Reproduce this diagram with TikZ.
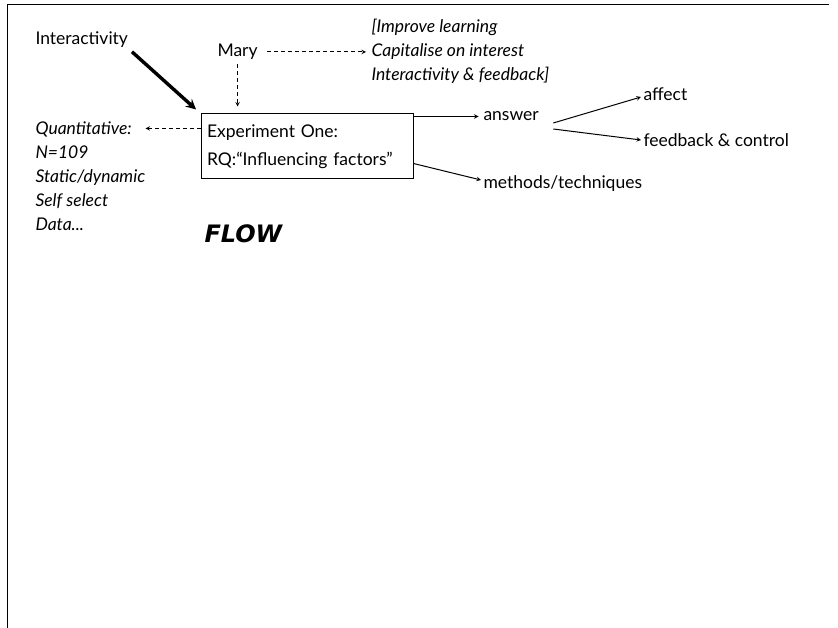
\documentclass[tikz,border=0pt]{standalone}
\usepackage{fontspec}
\setmainfont{Lato}
\newfontfamily\flowfont{DejaVu Sans}
\usetikzlibrary{arrows,positioning}

\begin{document}
\begin{tikzpicture}[x=1pt,y=-1pt,line width=1pt,
    every node/.style={font=\fontsize{17.5}{24}\selectfont,inner sep=2pt},
    note/.style={align=left,font=\fontsize{17.5}{24}\selectfont\itshape},
    dasharrow/.style={dash pattern=on 4pt off 3pt,-stealth},
    heavy/.style={line width=3.4pt,-stealth}]
\useasboundingbox (0,0) rectangle (838,628);
% frame
\draw (829,5) -- (7,5) -- (7,628);

\node[anchor=west] (inter) at (33,40) {Interactivity};
\node[anchor=west] (mary) at (215,52) {Mary};
\node[note,anchor=west] (aims) at (369,51) {[Improve learning\\Capitalise on interest\\Interactivity \& feedback]};
\node[draw,align=left,text width=200pt,minimum height=65pt,inner xsep=6pt] (exp) at (307,146.5)
    {Experiment One:\\[4pt]RQ:“Influencing factors”};
\node[note,anchor=west] (quant) at (33,176) {Quantitative:\\N=109\\Static/dynamic\\Self select\\Data...};
\node[anchor=west,font=\fontsize{24}{24}\flowfont\bfseries\itshape] (flow) at (202,234) {FLOW};
\node[anchor=west] (answer) at (481,116) {answer};
\node[anchor=west] (affect) at (641,94) {affect};
\node[anchor=west] (fbctrl) at (641,140) {feedback \& control};
\node[anchor=west] (methods) at (481,184) {methods/techniques};

\draw[heavy,shorten >=6pt,shorten <=2pt] (inter.south east) -- (exp.north west);
\draw[dasharrow,shorten <=7pt,shorten >=3pt] (mary.east) -- (mary -| aims.west);
\draw[dasharrow,shorten <=2pt,shorten >=7pt] (mary.south) -- (mary |- exp.north);
\draw[dasharrow] ([yshift=-15pt]exp.north west) -- ++(-55,0);
\draw[-stealth] ([yshift=-3pt]exp.north east) -- ++(65,0);
\draw[-stealth] ([shift={(12pt,-7pt)}]answer.east) -- ([yshift=-3pt]affect.west);
\draw[-stealth] ([shift={(12pt,-13pt)}]answer.east) -- (fbctrl.west);
\draw[-stealth] ([yshift=-17pt]exp.east) -- ([yshift=4pt]methods.west);
\end{tikzpicture}
\end{document}
